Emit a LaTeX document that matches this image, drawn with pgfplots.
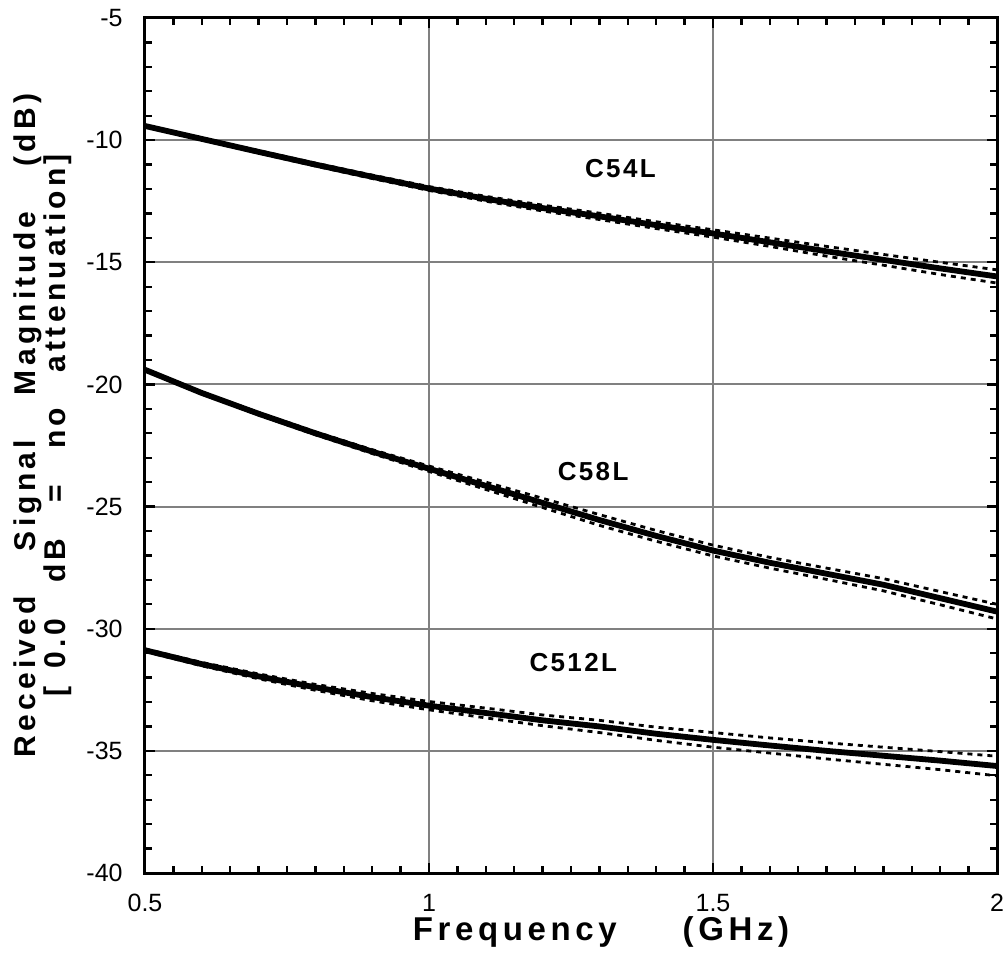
\documentclass[border=0pt]{standalone}
\usepackage{fontspec}
\setmainfont{Liberation Sans}
\newfontfamily\lblfont[LetterSpace=9]{Liberation Sans}
\newfontfamily\axlblfont[LetterSpace=14]{Liberation Sans}
\usepackage{pgfplots}
\usepackage{pgfplotstable}
\pgfplotsset{compat=1.18}

\pgfplotstableread{
x m u l
0.5 -9.42 -9.39 -9.45
0.6 -9.95 -9.91 -9.99
0.7 -10.48 -10.43 -10.53
0.8 -11.00 -10.94 -11.06
0.9 -11.50 -11.43 -11.57
1.0 -11.98 -11.90 -12.06
1.1 -12.40 -12.30 -12.50
1.2 -12.78 -12.66 -12.90
1.3 -13.12 -12.99 -13.25
1.4 -13.48 -13.34 -13.62
1.5 -13.82 -13.67 -13.97
1.6 -14.18 -14.01 -14.35
1.7 -14.55 -14.35 -14.75
1.8 -14.90 -14.68 -15.12
1.9 -15.25 -15.00 -15.50
2.0 -15.58 -15.31 -15.85
}\cfivefour

\pgfplotstableread{
x m u l
0.5 -19.40 -19.37 -19.43
0.6 -20.35 -20.31 -20.39
0.7 -21.20 -21.15 -21.25
0.8 -22.00 -21.94 -22.06
0.9 -22.75 -22.67 -22.83
1.0 -23.45 -23.34 -23.56
1.1 -24.15 -24.00 -24.30
1.2 -24.85 -24.66 -25.04
1.3 -25.55 -25.33 -25.77
1.4 -26.20 -25.98 -26.42
1.5 -26.80 -26.58 -27.02
1.6 -27.30 -27.08 -27.52
1.7 -27.75 -27.52 -27.98
1.8 -28.20 -27.95 -28.45
1.9 -28.75 -28.48 -29.02
2.0 -29.30 -29.00 -29.60
}\cfiveeight

\pgfplotstableread{
x m u l
0.5 -30.88 -30.83 -30.93
0.6 -31.45 -31.38 -31.52
0.7 -31.95 -31.85 -32.05
0.8 -32.40 -32.28 -32.52
0.9 -32.80 -32.65 -32.95
1.0 -33.15 -32.98 -33.32
1.1 -33.45 -33.25 -33.65
1.2 -33.75 -33.53 -33.97
1.3 -34.00 -33.75 -34.25
1.4 -34.30 -34.03 -34.57
1.5 -34.55 -34.25 -34.85
1.6 -34.78 -34.47 -35.09
1.7 -35.00 -34.67 -35.33
1.8 -35.20 -34.85 -35.55
1.9 -35.40 -35.03 -35.77
2.0 -35.62 -35.22 -36.02
}\cfivetwelve

\begin{document}
\begin{tikzpicture}
\begin{axis}[
  scale only axis,
  width=426pt, height=427.5pt,
  xmin=0.5, xmax=2, ymin=-40, ymax=-5,
  xtick={0.5,1,1.5,2},
  ytick={-40,-35,-30,-25,-20,-15,-10,-5},
  minor x tick num=9,
  minor y tick num=4,
  tick align=inside,
  major tick length=5pt,
  minor tick length=3.5pt,
  every tick/.style={black, line width=1.2pt},
  axis line style={line width=1.5pt},
  grid=major,
  major grid style={gray, line width=1pt},
  /pgf/number format/assume math mode=true,
  tick label style={font=\fontsize{12.5}{15}\selectfont},
  xticklabel style={anchor=center, yshift=-15pt},
  yticklabel style={anchor=east, inner sep=0pt, xshift=-11pt},
  xlabel={\axlblfont\bfseries Frequency\hspace{2em}(GHz)},
  every axis x label/.style={at={([xshift=15pt,yshift=-29.5pt]axis description cs:0.5,0)}, anchor=center, font=\fontsize{16.5}{17}\selectfont},
  ylabel={\axlblfont\bfseries Received\hspace{1.5em}Signal\hspace{1.5em}Magnitude\hspace{1.5em}(dB)\\\axlblfont\bfseries [\hspace{0.6em}0.0\hspace{1.2em}dB\hspace{1.2em}=\hspace{1.2em}no\hspace{1.2em}attenuation]},
  every axis y label/.style={at={([xshift=-51.25pt,yshift=10pt]axis description cs:0,0.5)}, rotate=90, anchor=center, align=center, font=\fontsize{15}{12.5}\selectfont},
]
\coordinate (bl) at (rel axis cs:0,0);
\coordinate (tr) at (rel axis cs:1,1);
\addplot[black, line width=1.4pt, dash pattern=on 2.5pt off 2.5pt] table[x=x,y=u] {\cfivefour};
\addplot[black, line width=1.4pt, dash pattern=on 2.5pt off 2.5pt] table[x=x,y=l] {\cfivefour};
\addplot[black, line width=2.9pt] table[x=x,y=m] {\cfivefour};
\addplot[black, line width=1.4pt, dash pattern=on 2.5pt off 2.5pt] table[x=x,y=u] {\cfiveeight};
\addplot[black, line width=1.4pt, dash pattern=on 2.5pt off 2.5pt] table[x=x,y=l] {\cfiveeight};
\addplot[black, line width=2.9pt] table[x=x,y=m] {\cfiveeight};
\addplot[black, line width=1.4pt, dash pattern=on 2.5pt off 2.5pt] table[x=x,y=u] {\cfivetwelve};
\addplot[black, line width=1.4pt, dash pattern=on 2.5pt off 2.5pt] table[x=x,y=l] {\cfivetwelve};
\addplot[black, line width=2.9pt] table[x=x,y=m] {\cfivetwelve};
\node[font=\fontsize{13}{15}\selectfont\lblfont\bfseries] at (axis cs:1.337,-11.16) {C54L};
\node[font=\fontsize{13}{15}\selectfont\lblfont\bfseries] at (axis cs:1.289,-23.55) {C58L};
\node[font=\fontsize{13}{15}\selectfont\lblfont\bfseries] at (axis cs:1.254,-31.39) {C512L};
\end{axis}
\pgfresetboundingbox
\path[use as bounding box] ([xshift=-72.5pt,yshift=-40pt]bl) rectangle ([xshift=4pt,yshift=9pt]tr);
\end{tikzpicture}
\end{document}
